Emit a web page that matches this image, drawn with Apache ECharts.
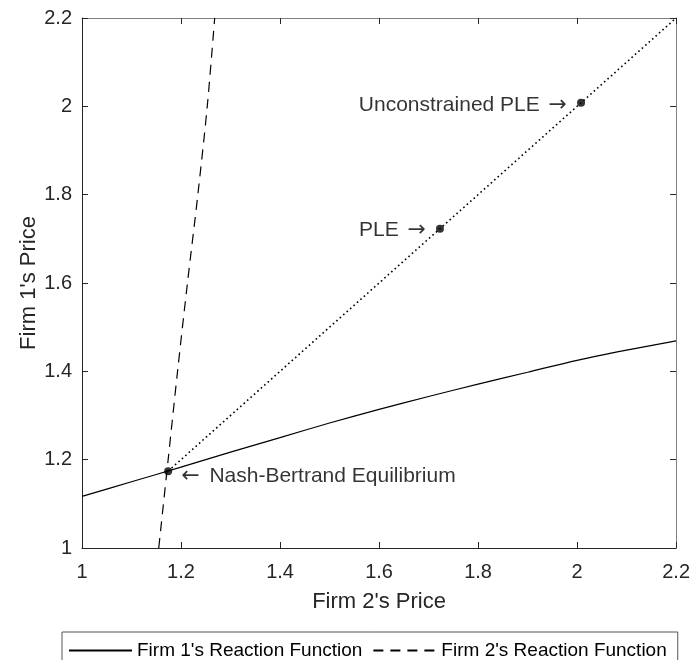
<!DOCTYPE html>
<html>
<head>
<meta charset="utf-8">
<script src="https://cdn.jsdelivr.net/npm/echarts@6/dist/echarts.min.js"></script>
<style>
  html, body { margin: 0; padding: 0; background: #fff; }
  #chart { width: 693px; height: 660px; }
</style>
</head>
<body>
<div id="chart"></div>
<script>
// Axis ticks
const xTicks = [1, 1.2, 1.4, 1.6, 1.8, 2, 2.2];
const yTicks = [1, 1.2, 1.4, 1.6, 1.8, 2, 2.2];

// Firm 1's reaction function: firm 2's price -> firm 1's price
const firm1P2 = [1.0, 1.1, 1.2, 1.3, 1.4, 1.5, 1.6, 1.7, 1.8, 1.9, 2.0, 2.1, 2.2];
const firm1P1 = [1.117, 1.150, 1.183, 1.217, 1.250, 1.283, 1.314, 1.343, 1.371, 1.398, 1.425, 1.448, 1.469];

// Firm 2's reaction function: firm 1's price -> firm 2's price
const firm2P1 = [1.0, 1.2, 1.4, 1.6, 1.8, 2.0, 2.2];
const firm2P2 = [1.155, 1.174, 1.193, 1.213, 1.234, 1.253, 1.268];

// Equilibrium points [firm 2 price, firm 1 price]
const nashPoint = [1.174, 1.174];
const plePoint = [1.723, 1.723];
const unconstrainedPoint = [2.008, 2.008];

// Equal-price diagonal from Nash equilibrium to the upper corner
const diagonal = [nashPoint, [2.2, 2.2]];

const firm1Data = firm1P2.map((x, i) => [x, firm1P1[i]]);
const firm2Data = firm2P1.map((y, i) => [firm2P2[i], y]);

const font = 'Liberation Sans, Arial, Helvetica, sans-serif';
const arrowFont = 'DejaVu Sans, sans-serif';
const axisColor = '#262626';
const fmt = v => String(Math.round(v * 10) / 10);

const chart = echarts.init(document.getElementById('chart'), null, { renderer: 'canvas' });

const baseAxis = {
  min: 1, max: 2.2, interval: 0.2,
  splitLine: { show: false },
  axisLine: { show: true, onZero: false, lineStyle: { color: axisColor, width: 1 } },
  axisTick: { show: true, inside: true, length: 6, lineStyle: { color: axisColor } },
};

const arrowRich = {
  la: { fontFamily: arrowFont, fontSize: 22, color: '#000', padding: [0, 4, 0, 0] },
  ra: { fontFamily: arrowFont, fontSize: 22, color: '#000', padding: [0, 0, 0, 3] },
};

chart.setOption({
  animation: false,
  backgroundColor: '#fff',
  grid: { left: 82, right: 15, top: 18, bottom: 112, containLabel: false },
  xAxis: [
    Object.assign({}, baseAxis, {
      type: 'value', position: 'bottom',
      name: "Firm 2's Price", nameLocation: 'middle', nameGap: 43,
      nameMoveOverlap: false,
      nameTextStyle: { fontFamily: font, fontSize: 22, color: axisColor },
      axisLabel: { formatter: fmt, fontFamily: font, fontSize: 20, color: axisColor, margin: 14 },
    }),
    Object.assign({}, baseAxis, {
      type: 'value', position: 'top',
      axisLine: { show: true, onZero: false, lineStyle: { color: '#7f7f7f', width: 1 } },
      axisLabel: { show: false },
    }),
  ],
  yAxis: [
    Object.assign({}, baseAxis, {
      type: 'value', position: 'left',
      name: "Firm 1's Price", nameLocation: 'middle', nameGap: 42,
      nameMoveOverlap: false,
      nameTextStyle: { fontFamily: font, fontSize: 22, color: axisColor },
      axisLabel: { formatter: fmt, fontFamily: font, fontSize: 20, color: axisColor, margin: 10 },
    }),
    Object.assign({}, baseAxis, {
      type: 'value', position: 'right',
      axisLine: { show: true, onZero: false, lineStyle: { color: '#7f7f7f', width: 1 } },
      axisLabel: { show: false },
    }),
  ],
  legend: {
    data: ["Firm 1's Reaction Function", "Firm 2's Reaction Function"],
    left: 62, top: 632,
    orient: 'horizontal',
    itemWidth: 63, itemHeight: 14, itemGap: 10,
    padding: [9, 11, 12, 6],
    borderColor: '#555', borderWidth: 1,
    itemStyle: { opacity: 0 },
    textStyle: { fontFamily: font, fontSize: 19, color: '#000' },
  },
  series: [
    {
      name: "Firm 1's Reaction Function",
      type: 'line', data: firm1Data, smooth: 0.3,
      showSymbol: false, symbol: 'none',
      lineStyle: { color: '#000', width: 1.2, type: 'solid' },
      itemStyle: { color: '#000' },
      z: 3,
    },
    {
      name: "Firm 2's Reaction Function",
      type: 'line', data: firm2Data, smooth: 0.3,
      showSymbol: false, symbol: 'none',
      lineStyle: { color: '#000', width: 1.2, type: [10, 7] },
      itemStyle: { color: '#000' },
      z: 3,
    },
    {
      name: 'diagonal',
      type: 'line', data: diagonal,
      showSymbol: false, symbol: 'none',
      lineStyle: { color: '#000', width: 1.6, type: [1.6, 3.0] },
      z: 2,
    },
    {
      name: 'points',
      type: 'scatter',
      symbol: 'circle', symbolSize: 8,
      itemStyle: { color: '#000' },
      z: 5,
      label: { show: true, fontFamily: font, fontSize: 21, color: '#000', rich: arrowRich },
      data: [
        { value: nashPoint, label: { position: 'right', distance: 9, formatter: '{la|\u2190} Nash-Bertrand Equilibrium', offset: [0, 5] } },
        { value: plePoint, label: { position: 'left', distance: 10, formatter: 'PLE {ra|\u2192}', offset: [0, 2] } },
        { value: unconstrainedPoint, label: { position: 'left', distance: 10, formatter: 'Unconstrained PLE {ra|\u2192}', offset: [0, 2] } },
      ],
    },
  ],
});
</script>
</body>
</html>
